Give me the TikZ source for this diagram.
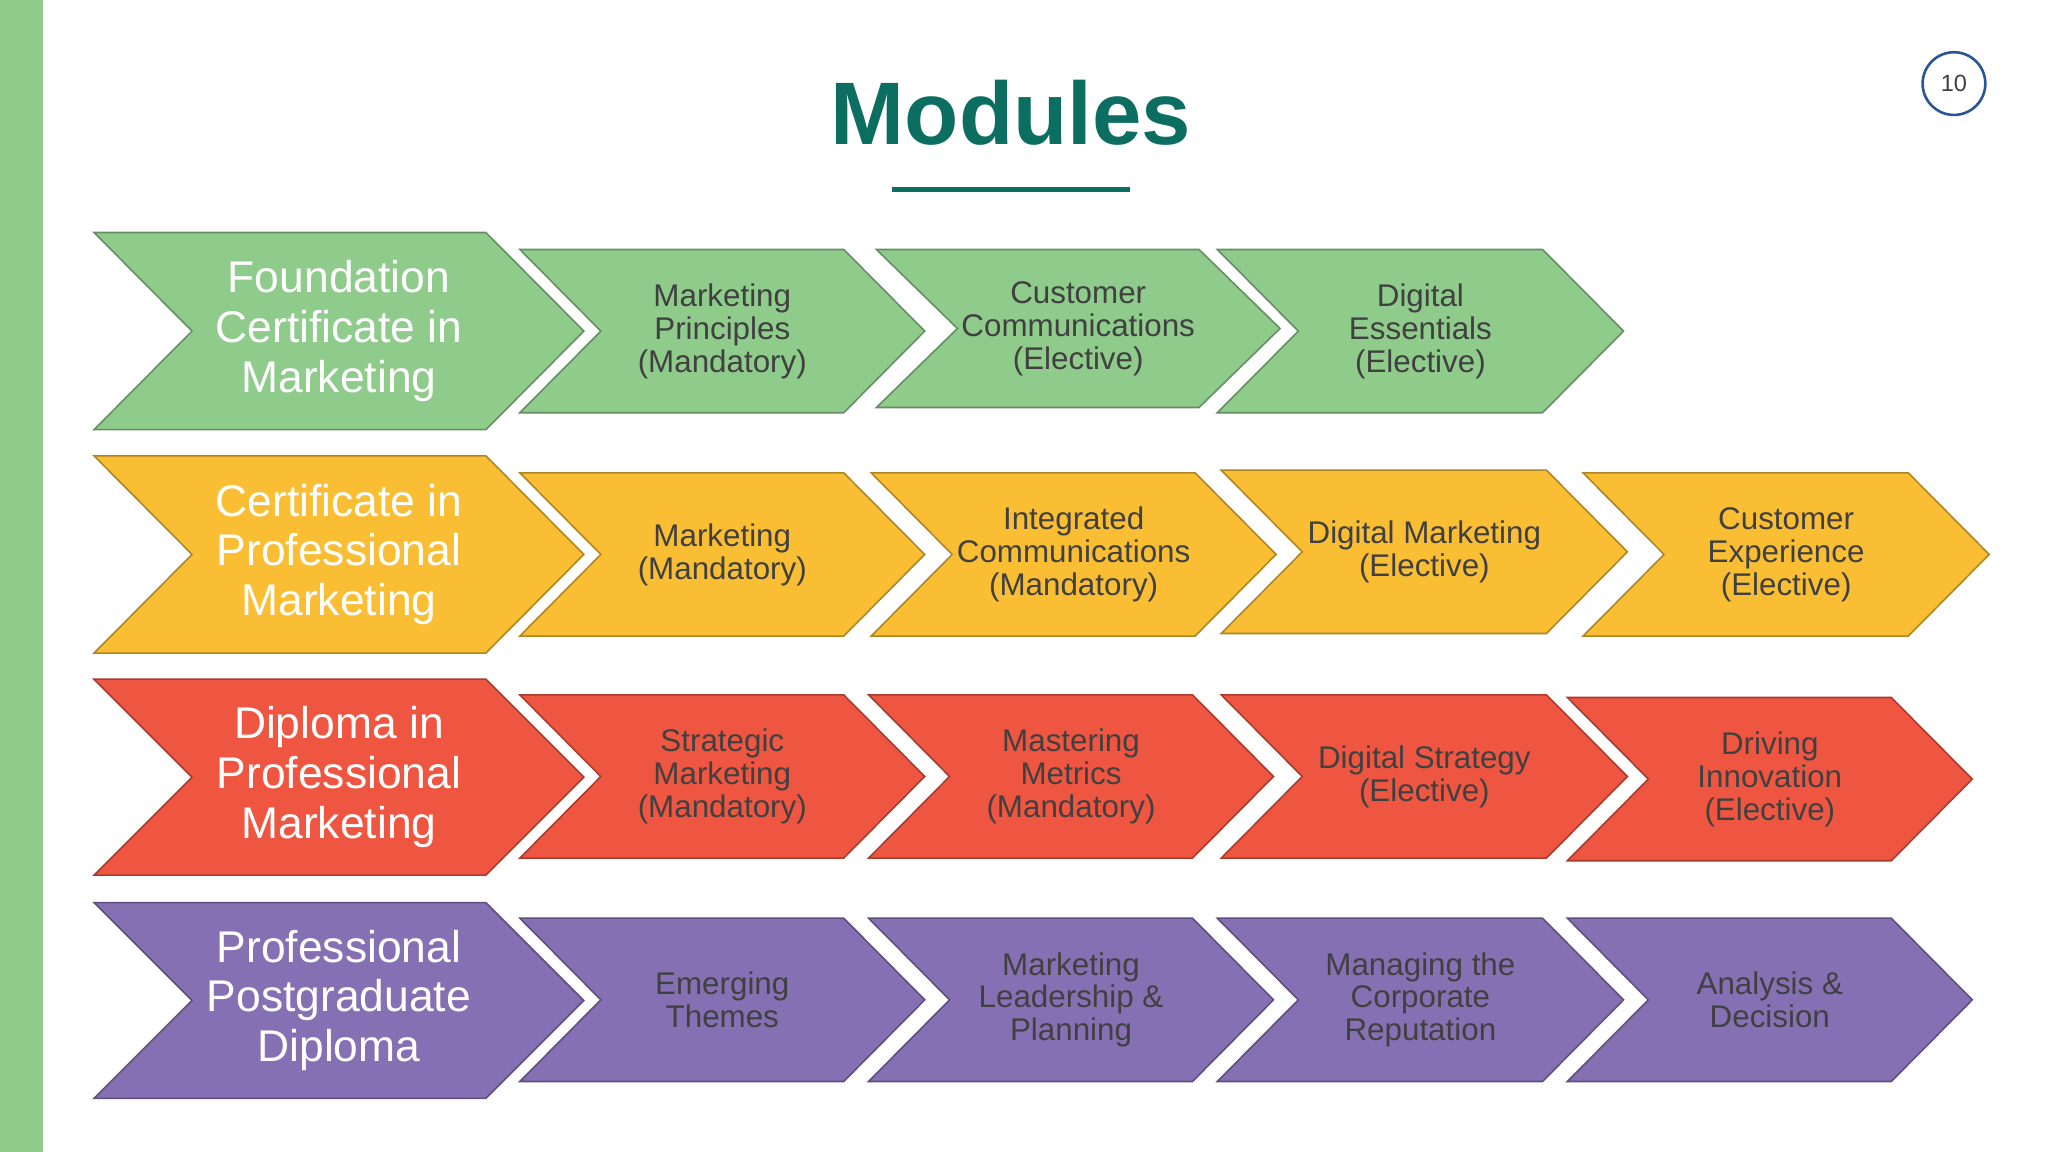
\documentclass[tikz,border=0pt]{standalone}
\usepackage{fontspec}
\setmainfont{Liberation Sans}
\definecolor{cg}{HTML}{8FCB8B}\definecolor{cy}{HTML}{F9BE34}
\definecolor{cr}{HTML}{EF5641}\definecolor{cp}{HTML}{8670B4}
\definecolor{teal}{HTML}{0C6E61}\definecolor{txt}{HTML}{404040}
\tikzset{big/.style={text=white,font=\fontsize{17}{19}\selectfont,align=center},
small/.style={text=txt,font=\fontsize{12}{12.6}\selectfont,align=center}}
% left top tip bottom notch color name text style
\newcommand\chev[9]{%
\pgfmathsetmacro\mid{(#2+#4)/2}%
\draw[fill=#6,draw=#6!70!black,line width=0.6pt] (#1,#2) -- ({#3-#5},#2) -- (#3,\mid) -- ({#3-#5},#4) -- (#1,#4) -- ({#1+#5},\mid) -- cycle;
\node[#9] (#7) at ({(#1+#3)/2},\mid) {#8};}
\begin{document}
\begin{tikzpicture}[x=0.5pt,y=-0.5pt]
\useasboundingbox (0,0) rectangle (1568,882);
\fill[cg] (0,0) rectangle (33,882);
\node[text=teal,font=\bfseries\fontsize{34}{36}\selectfont] (title) at (774,86) {Modules};
\draw[teal,line width=2pt] (683,145) -- (865,145);
\draw[teal!60!blue!70!gray,line width=1pt] (1496,64) circle (24);
\node[text=txt,font=\fontsize{9}{10}\selectfont] (pg) at (1496,64) {10};
% row1
\chev{72}{178}{447}{329}{75}{cg}{a0}{Foundation\\Certificate in\\Marketing}{big}
\chev{398}{191}{708}{316}{62}{cg}{a1}{Marketing\\Principles\\(Mandatory)}{small}
\chev{671}{191}{980}{312}{62}{cg}{a2}{Customer\\Communications\\(Elective)}{small}
\chev{932}{191}{1243}{316}{62}{cg}{a3}{Digital\\Essentials\\(Elective)}{small}
% row2
\chev{72}{349}{447}{500}{75}{cy}{b0}{Certificate in\\Professional\\Marketing}{big}
\chev{398}{362}{708}{487}{62}{cy}{b1}{Marketing\\(Mandatory)}{small}
\chev{667}{362}{977}{487}{62}{cy}{b2}{Integrated\\Communications\\(Mandatory)}{small}
\chev{935}{360}{1246}{485}{62}{cy}{b3}{Digital Marketing\\(Elective)}{small}
\chev{1212}{362}{1523}{487}{62}{cy}{b4}{Customer\\Experience\\(Elective)}{small}
% row3
\chev{72}{520}{447}{670}{75}{cr}{c0}{Diploma in\\Professional\\Marketing}{big}
\chev{398}{532}{708}{657}{62}{cr}{c1}{Strategic\\Marketing\\(Mandatory)}{small}
\chev{665}{532}{975}{657}{62}{cr}{c2}{Mastering\\Metrics\\(Mandatory)}{small}
\chev{935}{532}{1246}{657}{62}{cr}{c3}{Digital Strategy\\(Elective)}{small}
\chev{1200}{534}{1510}{659}{62}{cr}{c4}{Driving\\Innovation\\(Elective)}{small}
% row4
\chev{72}{691}{447}{841}{75}{cp}{d0}{Professional\\Postgraduate\\Diploma}{big}
\chev{398}{703}{708}{828}{62}{cp}{d1}{Emerging\\Themes}{small}
\chev{665}{703}{975}{828}{62}{cp}{d2}{Marketing\\Leadership \&\\Planning}{small}
\chev{932}{703}{1243}{828}{62}{cp}{d3}{Managing the\\Corporate\\Reputation}{small}
\chev{1200}{703}{1510}{828}{62}{cp}{d4}{Analysis \&\\Decision}{small}
\end{tikzpicture}
\end{document}
